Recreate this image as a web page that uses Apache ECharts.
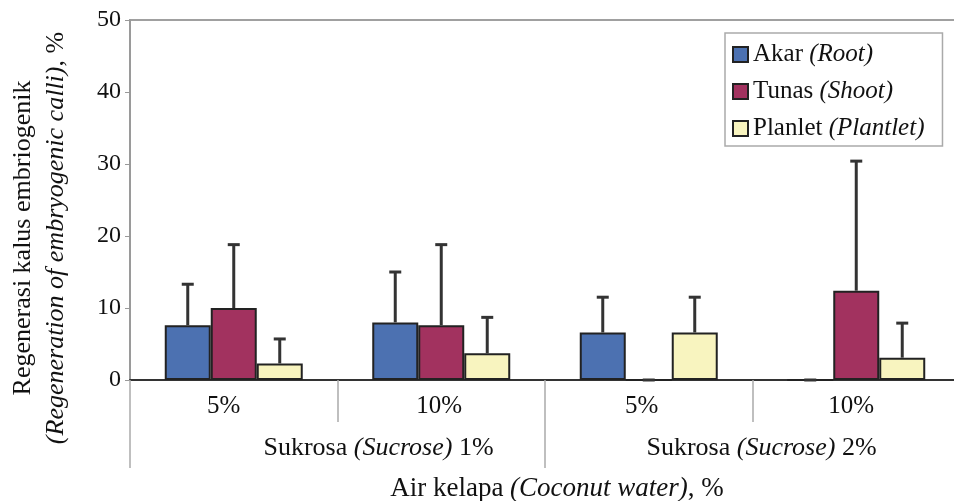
<!DOCTYPE html>
<html>
<head>
<meta charset="utf-8">
<script src="https://cdn.jsdelivr.net/npm/echarts@6/dist/echarts.min.js"></script>
<style>
  html, body { margin: 0; padding: 0; background: #fff; }
  #chart { width: 954px; height: 501px; }
</style>
</head>
<body>
<div id="chart"></div>
<script>
// Coconut water levels within each sucrose level
const categories = ['5%', '10%', '5%', '10%'];
const sucroseLabels = ['Sukrosa (Sucrose) 1%', 'Sukrosa (Sucrose) 2%'];
const yTicks = [0, 10, 20, 30, 40, 50];

// Series names (Indonesian, English)
const seriesNames = ['Akar', 'Tunas', 'Planlet'];
const seriesNamesEn = ['(Root)', '(Shoot)', '(Plantlet)'];

// Mean regeneration (%) and upper error
const akar = [7.6, 8.0, 6.6, 0];
const tunas = [10.0, 7.6, 0, 12.4];
const planlet = [2.3, 3.7, 6.6, 3.1];
const akarErr = [5.7, 7.0, 4.9, 0];
const tunasErr = [8.8, 11.2, 0, 18.0];
const planletErr = [3.4, 5.0, 4.9, 4.8];

const yTitle1 = 'Regenerasi kalus embriogenik';
const yTitle2 = '(Regeneration of embryogenic calli)';
const xTitle1 = 'Air kelapa';
const xTitle2 = '(Coconut water)';

const colors = ['#4c71b1', '#a2325f', '#f8f4bf'];
const values = [akar, tunas, planlet];
const errors = [akarErr, tunasErr, planletErr];
const FONT = "'Liberation Serif', 'Times New Roman', serif";
const BAR_FRACTION = 0.665; // share of each category band filled by the three bars

// small horizontal nudges (px) for the lower label rows
const catLabelNudge = [-10, -2, -7, -5];
const sucroseLabelNudge = [41, 9];

function nudgePadding(dx) {
  // shift a centred label sideways by padding one side
  const pad = Math.abs(dx) * 2;
  return dx >= 0 ? [0, 0, 0, pad] : [0, pad, 0, 0];
}

const barSeries = seriesNames.map((n, i) => ({
  name: n + ' ' + seriesNamesEn[i],
  type: 'bar',
  data: values[i],
  barGap: '0%',
  barCategoryGap: ((1 - BAR_FRACTION) * 100).toFixed(1) + '%',
  itemStyle: { color: colors[i], borderColor: '#222', borderWidth: 2 },
  z: 2
}));

// Upper error whiskers, aligned with each bar of the group
const errSeries = seriesNames.map((n, i) => ({
  type: 'custom',
  z: 5,
  silent: true,
  data: values[i].map((v, k) => [k, v, errors[i][k]]),
  renderItem: function (params, api) {
    const k = api.value(0);
    const v = api.value(1);
    const e = api.value(2);
    const band = api.size([1, 0])[0];
    const bw = band * BAR_FRACTION / 3;
    const base = api.coord([k, v]);
    const top = api.coord([k, v + e]);
    const x = base[0] + (i - 1) * bw;
    const capHalf = 6;
    const style = { stroke: '#333', lineWidth: 3 };
    return {
      type: 'group',
      children: [
        { type: 'line', shape: { x1: x, y1: base[1], x2: x, y2: top[1] }, style: style },
        { type: 'line', shape: { x1: x - capHalf, y1: top[1], x2: x + capHalf, y2: top[1] }, style: style }
      ]
    };
  }
}));

const italic = (size) => ({ fontFamily: FONT, fontSize: size, fontStyle: 'italic', color: '#111' });

const catRich = {};
categories.forEach((c, k) => {
  catRich['c' + k] = { fontFamily: FONT, fontSize: 25, color: '#111', padding: nudgePadding(catLabelNudge[k]) };
});
const sucRich = { t: { fontFamily: FONT, fontSize: 26, color: '#111' } };
sucroseLabels.forEach((c, k) => {
  sucRich['s' + k] = { fontFamily: FONT, fontSize: 26, color: '#111', padding: nudgePadding(sucroseLabelNudge[k]) };
  sucRich['i' + k] = italic(26);
});

const chart = echarts.init(document.getElementById('chart'), null, { renderer: 'canvas' });
chart.setOption({
  animation: false,
  backgroundColor: '#fff',
  textStyle: { fontFamily: FONT, color: '#111' },
  grid: {
    left: 130, top: 20, width: 830, height: 360,
    containLabel: false,
    outerBoundsMode: 'none',
    show: true, borderColor: '#a0a0a0', borderWidth: 2, backgroundColor: 'transparent'
  },
  legend: {
    orient: 'vertical',
    left: 725, top: 33,
    padding: [9, 18, 5, 7],
    itemWidth: 15, itemHeight: 15,
    itemGap: 12,
    borderColor: '#aaa', borderWidth: 1.5,
    icon: 'rect',
    formatter: function (name) {
      const i = seriesNames.indexOf(name.split(' ')[0]);
      return seriesNames[i] + ' {i|' + seriesNamesEn[i] + '}';
    },
    textStyle: {
      fontFamily: FONT, fontSize: 25, color: '#111', lineHeight: 25,
      rich: { i: italic(25) }
    }
  },
  xAxis: [
    {
      type: 'category',
      data: categories,
      position: 'bottom',
      axisLine: { onZero: false, lineStyle: { color: '#333', width: 2 } },
      axisTick: { show: true, length: 42, lineStyle: { color: '#aaa', width: 1.5 } },
      axisLabel: {
        interval: 0,
        hideOverlap: false,
        margin: 14,
        fontFamily: FONT, fontSize: 25, color: '#111',
        formatter: function (val, k) { return '{c' + k + '|' + val + '}'; },
        rich: catRich
      }
    },
    {
      type: 'category',
      data: sucroseLabels,
      position: 'bottom',
      axisLine: { show: false },
      axisTick: { show: true, length: 88, lineStyle: { color: '#aaa', width: 1.5 } },
      axisLabel: {
        interval: 0,
        hideOverlap: false,
        margin: 55,
        formatter: function (val, k) {
          const p = val.split(' ');
          return '{s' + k + '|' + p[0] + ' }{i' + k + '|' + p[1] + '}{t|\u00a0' + p[2] + '}';
        },
        fontFamily: FONT, fontSize: 26, color: '#111',
        rich: sucRich
      },
      name: xTitle1 + ' {i|' + xTitle2 + '}, %',
      nameLocation: 'middle',
      nameGap: 95,
      nameTextStyle: {
        fontFamily: FONT, fontSize: 27, color: '#111',
        padding: [0, 0, 0, 24],
        rich: { i: italic(27) }
      }
    }
  ],
  yAxis: {
    type: 'value',
    min: yTicks[0], max: yTicks[yTicks.length - 1], interval: 10,
    axisLine: { show: true, lineStyle: { color: '#999', width: 1.5 } },
    axisTick: { show: true, length: 5, lineStyle: { color: '#999' } },
    splitLine: { show: false },
    axisLabel: { fontFamily: FONT, fontSize: 24, color: '#111', margin: 9 }
  },
  graphic: [
    {
      type: 'text',
      x: 40, y: 238,
      rotation: Math.PI / 2,
      style: {
        text: yTitle1 + '\n{i|' + yTitle2 + '}, %',
        fontFamily: FONT, fontSize: 26, fill: '#111',
        lineHeight: 33,
        align: 'center', verticalAlign: 'middle',
        rich: { i: { fontFamily: FONT, fontSize: 26, fontStyle: 'italic', fill: '#111', lineHeight: 33 } }
      }
    }
  ],
  series: barSeries.concat(errSeries)
});
</script>
</body>
</html>
